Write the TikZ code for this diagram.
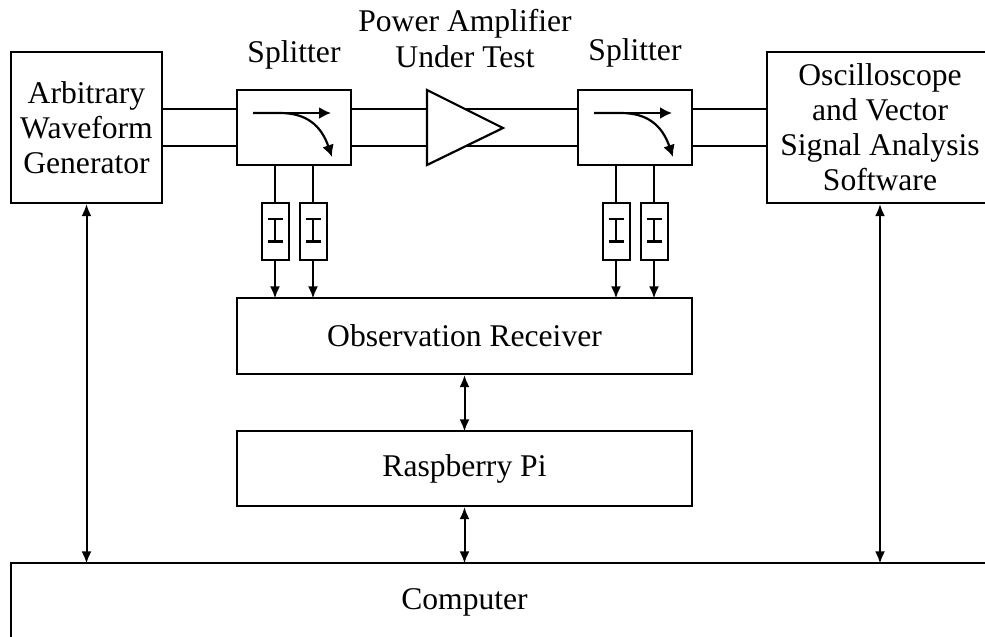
\documentclass[tikz,border=0pt]{standalone}
\usepackage{fontspec}
\setmainfont{Liberation Serif}
\usetikzlibrary{arrows.meta,positioning}
\tikzset{
  blockbox/.style={draw, line width=2.2pt, inner sep=0pt, align=center, fill=white, font=\fontsize{31.6}{35}\selectfont},
  isobox/.style={draw, line width=2pt, minimum width=27pt, minimum height=57pt, inner sep=0pt},
  wire/.style={line width=2.2pt},
  sigline/.style={line width=2pt, shorten >=-1.5pt, -{Latex[length=12pt,width=10pt]}},
  dualline/.style={line width=2pt, shorten >=-1.5pt, {Latex[length=12pt,width=10pt]}-{Latex[length=12pt,width=10pt]}},
  coupler/.style={line width=2.2pt, -{Latex[length=12pt,width=12pt]}},
  titletext/.style={font=\fontsize{31.6}{36}\selectfont, align=center, inner sep=0pt}
}
\begin{document}
\begin{tikzpicture}[x=1pt,y=-1pt]
  \useasboundingbox (0,0) rectangle (985,637);

  % Signal path first, the amplifier sits on top of it
  \coordinate (awgtop) at (162,109);
  \coordinate (awgbot) at (162,146);
  \coordinate (scopetop) at (767,109);
  \coordinate (scopebot) at (767,146);
  \draw[wire] (awgtop) -- (scopetop);
  \draw[wire] (awgbot) -- (scopebot);

  % Instruments, scope and computer run past the page edge
  \node[blockbox, minimum width=151pt, minimum height=151pt] (awg) at (86.5,127.5) {Arbitrary\\Waveform\\Generator};
  \node[blockbox, minimum width=226pt, minimum height=151pt] (scope) at (880,127.5) {Oscilloscope\\and Vector\\Signal Analysis\\Software};
  \node[blockbox, minimum width=114pt, minimum height=75pt] (splitA) at (294,127.5) {};
  \node[blockbox, minimum width=114pt, minimum height=75pt] (splitB) at (635,127.5) {};
  \node[blockbox, minimum width=455pt, minimum height=76pt] (obs) at (464.5,336) {Observation Receiver};
  \node[blockbox, minimum width=455pt, minimum height=75pt] (rpi) at (464.5,468.5) {Raspberry Pi};
  \node[blockbox, minimum width=1010pt, minimum height=100pt] (comp) at (516,613) {};
  \node[titletext] (complabel) at (464.5,602) {Computer};

  % Amplifier
  \coordinate (ampA) at (427,90);
  \coordinate (ampB) at (503,128);
  \coordinate (ampC) at (427,165);
  \draw[line width=2.2pt, fill=white] (ampA) -- (ampB) -- (ampC) -- cycle;

  % Titles
  \node[titletext] (splitAlabel) at (294,55) {Splitter};
  \node[titletext] (amplabel) at (465,39) {Power Amplifier\\Under Test};
  \node[titletext] (splitBlabel) at (635,53) {Splitter};

  % Couplers and isolators below each splitter
  \foreach \name/\cx in {splitA/294, splitB/635} {
    \coordinate (\name in) at (\cx-41,113);
    \coordinate (\name out) at (\cx+37,113);
    \coordinate (\name drop) at (\cx+38,157);
    \draw[coupler] (\name in) -- (\name out);
    \draw[coupler] (\name in) -- (\cx-14,113) .. controls (\cx+12,113) and (\cx+27,125) .. (\name drop);
    \foreach \side/\dx in {L/-19, R/19} {
      \node[isobox] (\name\side) at (\cx+\dx,231.5) {};
      \draw[wire] (\name.south -| \name\side) -- (\name\side);
      \draw[line width=2pt] (\cx+\dx,219) -- (\cx+\dx,241.5);
      \draw[line width=1.6pt] (\cx+\dx-7.5,219) -- (\cx+\dx+7.5,219);
      \draw[line width=2.6pt] (\cx+\dx-7.5,241.5) -- (\cx+\dx+7.5,241.5);
      \draw[sigline] (\name\side) -- (\name\side |- obs.north);
    }
  }

  % Control links
  \draw[dualline] (awg.south) -- (awg.south |- comp.north);
  \draw[dualline] (scope.south) -- (scope.south |- comp.north);
  \draw[dualline] (obs) -- (rpi);
  \draw[dualline] (rpi) -- (rpi.south |- comp.north);
\end{tikzpicture}
\end{document}
